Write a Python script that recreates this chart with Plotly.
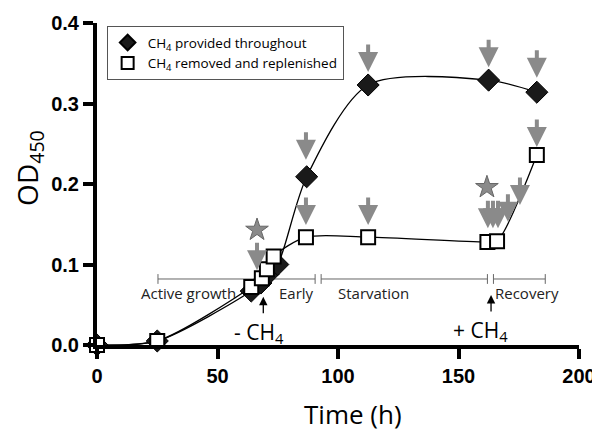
import plotly.graph_objects as go

# ---- data ----
dia_x = [0, 25, 64, 68, 71, 75, 87, 112.5, 162.5, 182.5]
dia_y = [0.0, 0.005, 0.067, 0.077, 0.088, 0.100, 0.209, 0.323, 0.329, 0.314]

sq_x = [0, 25, 64, 68.4, 70.5, 73.3, 86.7, 112.5, 162, 166, 182.5]
sq_y = [0.0, 0.005, 0.072, 0.083, 0.094, 0.110, 0.134, 0.134, 0.128, 0.129, 0.236]

star_x = [66.4, 161.8]
star_y = [0.143, 0.196]

# gray arrows: x, tip y
arrow_x = [66.4, 86.7, 86.7, 112.5, 112.5, 162.5, 182.5, 182.5, 162.2, 164.3, 166.4, 170.5, 175.5]
arrow_y = [0.093, 0.230, 0.149, 0.339, 0.149, 0.345, 0.332, 0.246, 0.145, 0.145, 0.145, 0.153, 0.174]

phase_names = ["Active growth", "Early", "Starvation", "Recovery"]
phase_start = [25.3, 69.5, 93, 164.5]
phase_end = [69, 90.5, 162, 186]
phase_y = 0.082
label_x = [58.5, 74.5, 99, 164.3]

minus_x, minus_y = 69, 0.060
plus_x, plus_y = 163.5, 0.062

fig = go.Figure()

GRAY = "#8a8a8a"

# phase bars
for s, e in zip(phase_start, phase_end):
    fig.add_trace(go.Scatter(x=[s, e], y=[phase_y, phase_y], mode="lines+markers",
                             line=dict(color="#666", width=1),
                             marker=dict(symbol="line-ns-open", size=7, color="#666", line=dict(width=1, color="#666")),
                             showlegend=False, hoverinfo="skip", cliponaxis=False))

# curves
fig.add_trace(go.Scatter(x=dia_x, y=dia_y, mode="lines", line=dict(shape="spline", smoothing=0.8, color="black", width=1.3),
                         showlegend=False, hoverinfo="skip", cliponaxis=False))
fig.add_trace(go.Scatter(x=sq_x, y=sq_y, mode="lines", line=dict(shape="spline", smoothing=0.8, color="black", width=1.3),
                         showlegend=False, hoverinfo="skip", cliponaxis=False))

fig.add_trace(go.Scatter(x=dia_x, y=dia_y, mode="markers", name="CH<sub>4</sub> provided throughout",
                         marker=dict(symbol="diamond", size=17, color="#1a1a1a", line=dict(color="black", width=1)),
                         cliponaxis=False))
fig.add_trace(go.Scatter(x=sq_x, y=sq_y, mode="markers", name="CH<sub>4</sub> removed and replenished",
                         marker=dict(symbol="square", size=14, color="white", line=dict(color="black", width=2)),
                         cliponaxis=False))

fig.add_trace(go.Scatter(x=star_x, y=star_y, mode="markers", showlegend=False,
                         marker=dict(symbol="star", size=17, color=GRAY, line=dict(color="#666", width=1)),
                         cliponaxis=False))

annotations = []
for x, y in zip(arrow_x, arrow_y):
    annotations.append(dict(x=x, y=y, xref="x", yref="y", ax=0, ay=-29, axref="pixel", ayref="pixel",
                            showarrow=True, arrowhead=2, arrowsize=1, arrowwidth=4, arrowcolor=GRAY, text=""))

anchors = ["right", "left", "left", "left"]
for name, lx, anc in zip(phase_names, label_x, anchors):
    annotations.append(dict(x=lx, y=0.065, xref="x", yref="y", text=name, showarrow=False, xanchor=anc,
                            yanchor="middle", font=dict(family="Open Sans", size=15, color="#222")))

for tx, ty, txt, dx in [(minus_x, minus_y, "- CH<sub>4</sub>", -4), (plus_x, plus_y, "+ CH<sub>4</sub>", -11)]:
    annotations.append(dict(x=tx, y=ty, xref="x", yref="y", text="", showarrow=True,
                            ax=0, ay=18, arrowhead=2, arrowsize=1.3, arrowwidth=1.3, arrowcolor="black"))
    annotations.append(dict(x=tx, y=ty, xref="x", yref="y", text=txt, showarrow=False,
                            xshift=dx, yshift=-36, font=dict(family="Open Sans", size=21, color="black")))

# axis titles
annotations.append(dict(x=0.531, y=0, xref="paper", yref="paper", text="Time (h)", showarrow=False,
                        xanchor="center", yanchor="middle", yshift=-69,
                        font=dict(family="Open Sans", size=26, color="black")))
annotations.append(dict(x=0, y=0.55, xref="paper", yref="paper", text="OD<sub>450</sub>", showarrow=False,
                        xanchor="center", yanchor="middle", xshift=-68, textangle=-90,
                        font=dict(family="Open Sans", size=28, color="black")))

fig.update_layout(
    width=592, height=425,
    margin=dict(l=89, r=21, t=15, b=88),
    plot_bgcolor="white", paper_bgcolor="white",
    annotations=annotations,
    legend=dict(x=0.02, y=0.99, xanchor="left", yanchor="top", bordercolor="#555", borderwidth=1,
                bgcolor="white", font=dict(family="Open Sans", size=13.5, color="black"),
                tracegroupgap=0, itemsizing="constant"),
    xaxis=dict(range=[0, 200], tickvals=[0, 50, 100, 150, 200], showgrid=False, zeroline=False,
               showline=True, linecolor="black", linewidth=4, ticks="outside", ticklen=10, tickwidth=4,
               tickcolor="black", automargin=False,
               tickfont=dict(family="Liberation Sans", size=20, color="black", weight="bold")),
    yaxis=dict(range=[0, 0.4], tickvals=[0, 0.1, 0.2, 0.3, 0.4], tickformat=".1f", showgrid=False, zeroline=False,
               showline=True, linecolor="black", linewidth=4, ticks="outside", ticklen=10, tickwidth=4,
               tickcolor="black", automargin=False,
               tickfont=dict(family="Liberation Sans", size=20, color="black", weight="bold")),
)

fig.write_html("out.html")
